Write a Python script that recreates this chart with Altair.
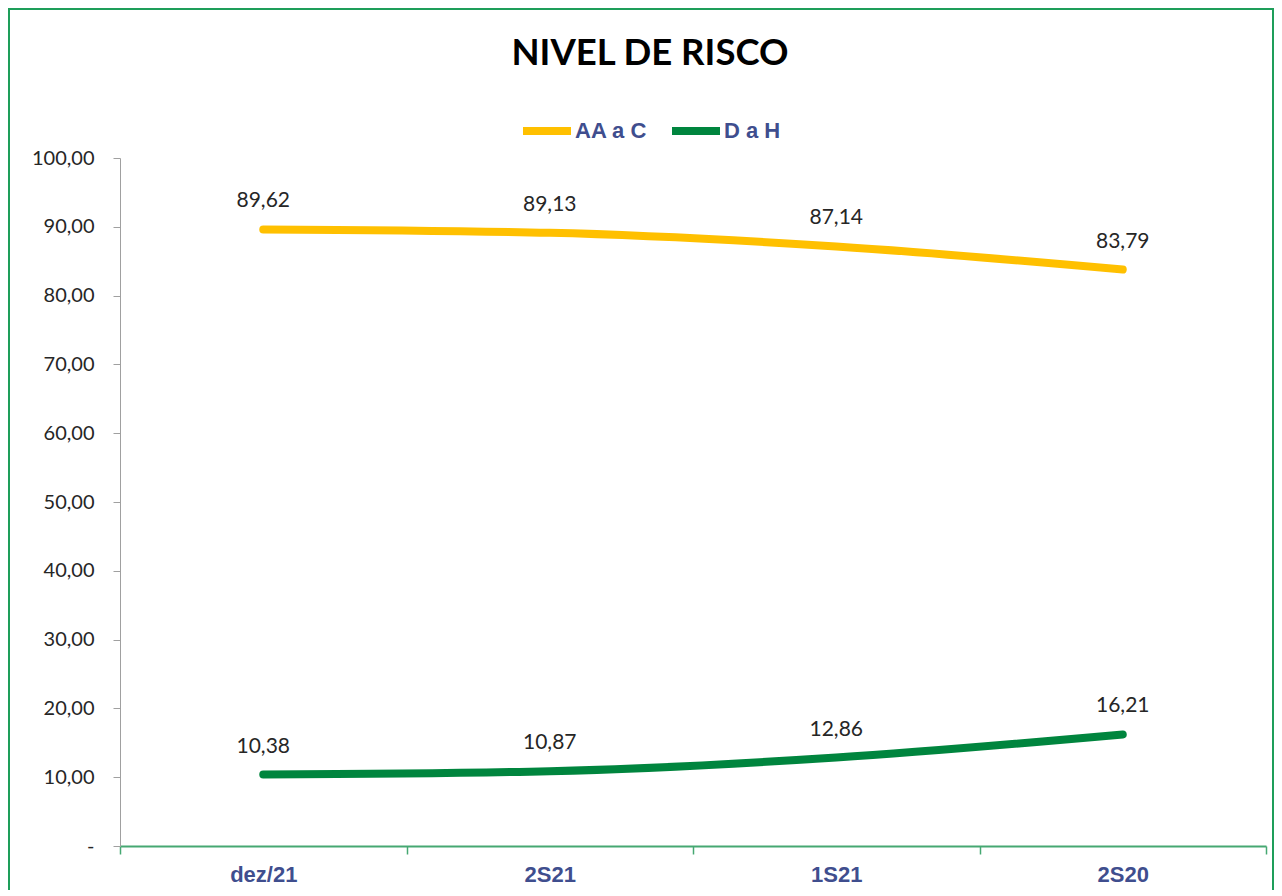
import altair as alt
import pandas as pd

periodos = ["dez/21", "2S21", "1S21", "2S20"]
series = ["AA a C", "D a H"]
aa_a_c = [89.62, 89.13, 87.14, 83.79]
d_a_h = [10.38, 10.87, 12.86, 16.21]
y_ticks = [0, 10, 20, 30, 40, 50, 60, 70, 80, 90, 100]
cores = ["#FFC000", "#00853E"]

rows = []
for p, v in zip(periodos, aa_a_c):
    rows.append({"periodo": p, "serie": series[0], "valor": v})
for p, v in zip(periodos, d_a_h):
    rows.append({"periodo": p, "serie": series[1], "valor": v})
df = pd.DataFrame(rows)

W, H = 1146, 688

base = alt.Chart(df).transform_calculate(
    label="replace(format(datum.valor, '.2f'), '.', ',')"
).encode(
    x=alt.X(
        "periodo:N",
        sort=periodos,
        scale=alt.Scale(type="band", paddingInner=0, paddingOuter=0),
        axis=alt.Axis(
            title=None,
            labelAngle=0,
            tickBand="extent",
            domainColor="#46A872",
            domainWidth=2,
            tickColor="#46A872",
            tickWidth=1.5,
            tickSize=8,
            labelFont="Liberation Sans",
            labelFontWeight="bold",
            labelFontSize=22,
            labelColor="#3F4E8E",
            labelPadding=10,
            grid=False,
        ),
    ),
    y=alt.Y(
        "valor:Q",
        scale=alt.Scale(domain=[0, 100], nice=False, zero=True),
        axis=alt.Axis(
            title=None,
            values=y_ticks,
            labelExpr="datum.value == 0 ? '-' : replace(format(datum.value, '.2f'), '.', ',')",
            labelFont="Lato",
            labelFontSize=20,
            labelColor="#262626",
            labelPadding=19,
            tickSize=7,
            tickColor="#A0A0A0",
            domainColor="#A0A0A0",
            grid=False,
        ),
    ),
)

lines = base.mark_line(strokeWidth=8, strokeCap="round", interpolate="monotone").encode(
    color=alt.Color(
        "serie:N",
        scale=alt.Scale(domain=series, range=cores),
        legend=alt.Legend(
            title=None,
            orient="none",
            legendX=399,
            legendY=-55,
            direction="horizontal",
            symbolType="stroke",
            symbolSize=2304,
            symbolStrokeWidth=8,
            labelFont="Liberation Sans",
            labelFontWeight="bold",
            labelFontSize=22,
            labelColor="#3F4E8E",
            labelOffset=0,
            columnPadding=8,
            padding=0,
        ),
    )
)

labels = base.mark_text(dy=-28, font="Lato", fontSize=21, baseline="middle").encode(
    text="label:N", color=alt.value("#262626")
)

title = alt.Chart(alt.Data(values=[{}])).mark_text(
    text="NIVEL DE RISCO", font="Lato", fontWeight="bold", fontSize=36.5,
    color="#000000", baseline="middle", align="center"
).encode(x=alt.value(530), y=alt.value(-104))

border = alt.Chart(alt.Data(values=[{}])).mark_rect(
    fillOpacity=0, stroke="#1E9E5A", strokeWidth=2
).encode(x=alt.value(-111), x2=alt.value(1153), y=alt.value(-149), y2=alt.value(780))

chart = alt.layer(border, title, lines, labels).properties(
    width=W,
    height=H,
    autosize=alt.AutoSizeParams(type="none"),
    padding={"left": 112, "top": 150, "right": 8, "bottom": 44},
).configure_view(stroke="transparent")

chart.save("out.html", embed_options={"renderer": "svg", "actions": False})
